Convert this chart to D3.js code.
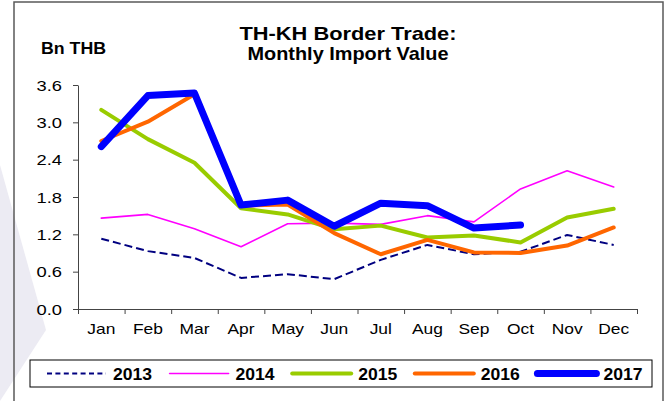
<!DOCTYPE html>
<html>
<head>
<meta charset="utf-8">
<script src="https://cdn.jsdelivr.net/npm/d3@7/dist/d3.min.js"></script>
<style>
  html, body { margin: 0; padding: 0; background: #ffffff; }
  svg { display: block; font-family: "Liberation Sans", Arial, sans-serif; }
</style>
</head>
<body>
<svg id="chart" width="670" height="401"></svg>
<script>
// Monthly import values, billion THB
const months = ["Jan", "Feb", "Mar", "Apr", "May", "Jun", "Jul", "Aug", "Sep", "Oct", "Nov", "Dec"];
const v2013 = [1.13, 0.93, 0.82, 0.50, 0.56, 0.48, 0.79, 1.03, 0.88, 0.92, 1.19, 1.03];
const v2014 = [1.46, 1.52, 1.29, 1.00, 1.37, 1.38, 1.36, 1.50, 1.40, 1.93, 2.22, 1.96];
const v2015 = [3.20, 2.73, 2.35, 1.62, 1.52, 1.28, 1.34, 1.15, 1.18, 1.07, 1.47, 1.61];
const v2016 = [2.70, 3.01, 3.45, 1.66, 1.68, 1.22, 0.88, 1.11, 0.91, 0.90, 1.02, 1.31];
const v2017 = [2.61, 3.43, 3.47, 1.67, 1.75, 1.33, 1.70, 1.66, 1.30, 1.35];
const yTicks = [0, 0.6, 1.2, 1.8, 2.4, 3.0, 3.6];
const seriesNames = ["2013", "2014", "2015", "2016", "2017"];

const series = [
  { name: seriesNames[0], values: v2013, color: "#000080", width: 2,   dash: "8,4", legendDash: "5,3.4", legendWidth: 2 },
  { name: seriesNames[1], values: v2014, color: "#ff00ff", width: 1.6, dash: null,  legendDash: null,    legendWidth: 1.6 },
  { name: seriesNames[2], values: v2015, color: "#99cc00", width: 4,   dash: null,  legendDash: null,    legendWidth: 4 },
  { name: seriesNames[3], values: v2016, color: "#ff6600", width: 4,   dash: null,  legendDash: null,    legendWidth: 4 },
  { name: seriesNames[4], values: v2017, color: "#0000ff", width: 7,   dash: null,  legendDash: null,    legendWidth: 7 }
];

const svg = d3.select("#chart");

// Faint backdrop shape on the left edge
svg.append("polygon")
  .attr("points", "0,165 46,330 0,401")
  .attr("fill", "#ecebf3");

// Outer frame
svg.append("path")
  .attr("d", "M14,402 V2 H663 V402")
  .attr("fill", "none")
  .attr("stroke", "#5a5a5a")
  .attr("stroke-width", 1.5);

// Stretches a text node horizontally by a factor of its natural width
function widen(sel, factor) {
  sel.each(function () {
    const w = this.getComputedTextLength();
    d3.select(this).attr("textLength", w * factor).attr("lengthAdjust", "spacingAndGlyphs");
  });
}

const plot = { left: 78, right: 637, top: 85, bottom: 309 };

const x = d3.scaleBand().domain(months).range([plot.left, plot.right]);
const xEdge = d3.scaleLinear().domain([0, months.length]).range([plot.left, plot.right]);
const y = d3.scaleLinear().domain([0, 3.6]).range([plot.bottom, plot.top]);

// Y axis
const yAxis = svg.append("g")
  .attr("transform", `translate(${plot.left},0)`)
  .call(d3.axisLeft(y).tickValues(yTicks).tickFormat(d3.format(".1f")).tickSize(5).tickSizeOuter(0).tickPadding(11));
yAxis.select(".domain").attr("stroke", "#444");
yAxis.selectAll(".tick line").attr("stroke", "#444");
yAxis.selectAll("text")
  .attr("font-size", 14.5)
  .attr("fill", "#000")
  .attr("font-family", "'Liberation Sans', Arial, sans-serif")
  .attr("dy", "0.36em")
  .attr("textLength", 25.5)
  .attr("lengthAdjust", "spacingAndGlyphs");

// X axis: ticks at month boundaries
const xTickAxis = svg.append("g")
  .attr("transform", `translate(0,${plot.bottom})`)
  .call(d3.axisBottom(xEdge).tickValues(d3.range(months.length + 1)).tickFormat("").tickSize(5).tickSizeOuter(0));
xTickAxis.select(".domain").attr("stroke", "#444");
xTickAxis.selectAll(".tick line").attr("stroke", "#444");

// X axis: month labels centred in each band
const xLabelAxis = svg.append("g")
  .attr("transform", `translate(0,${plot.bottom})`)
  .call(d3.axisBottom(x).tickSize(0).tickPadding(14));
xLabelAxis.select(".domain").remove();
xLabelAxis.selectAll("text")
  .attr("font-size", 15)
  .attr("fill", "#000")
  .attr("font-family", "'Liberation Sans', Arial, sans-serif")
  .attr("dy", 0)
  .attr("y", 334 - plot.bottom)
  .call(widen, 1.16);

// Series lines
const line = d3.line()
  .x((d, i) => x(months[i]) + x.bandwidth() / 2)
  .y(d => y(d));

svg.append("g").selectAll("path")
  .data(series)
  .join("path")
  .attr("d", s => line(s.values))
  .attr("fill", "none")
  .attr("stroke", s => s.color)
  .attr("stroke-width", s => s.width)
  .attr("stroke-dasharray", s => s.dash)
  .attr("stroke-linejoin", "round")
  .attr("stroke-linecap", s => s.dash ? "butt" : "round");

// Title
svg.append("text")
  .attr("x", 348).attr("y", 40)
  .attr("text-anchor", "middle")
  .attr("font-size", 19).attr("font-weight", "bold")
  .attr("textLength", 217).attr("lengthAdjust", "spacingAndGlyphs")
  .text("TH-KH Border Trade:");
svg.append("text")
  .attr("x", 348).attr("y", 60)
  .attr("text-anchor", "middle")
  .attr("font-size", 19).attr("font-weight", "bold")
  .attr("textLength", 201).attr("lengthAdjust", "spacingAndGlyphs")
  .text("Monthly Import Value");

// Unit label
svg.append("text")
  .attr("x", 41).attr("y", 54)
  .attr("font-size", 16).attr("font-weight", "bold")
  .attr("textLength", 65).attr("lengthAdjust", "spacingAndGlyphs")
  .text("Bn THB");

// Legend
const legend = svg.append("g");
legend.append("rect")
  .attr("x", 30).attr("y", 360)
  .attr("width", 622).attr("height", 27)
  .attr("fill", "#ffffff")
  .attr("stroke", "#000")
  .attr("stroke-width", 1);

const item = legend.selectAll("g.item")
  .data(series)
  .join("g")
  .attr("class", "item")
  .attr("transform", (s, i) => `translate(${113 + i * 122.6},0)`);

item.append("line")
  .attr("x1", -66).attr("x2", -7)
  .attr("y1", 373.5).attr("y2", 373.5)
  .attr("stroke", s => s.color)
  .attr("stroke-width", s => s.legendWidth)
  .attr("stroke-dasharray", s => s.legendDash)
  .attr("stroke-linecap", s => s.legendDash ? "butt" : "round");

item.append("text")
  .attr("x", 0).attr("y", 379.5)
  .attr("font-size", 16).attr("font-weight", "bold")
  .attr("textLength", 39).attr("lengthAdjust", "spacingAndGlyphs")
  .text(s => s.name);
</script>
</body>
</html>
